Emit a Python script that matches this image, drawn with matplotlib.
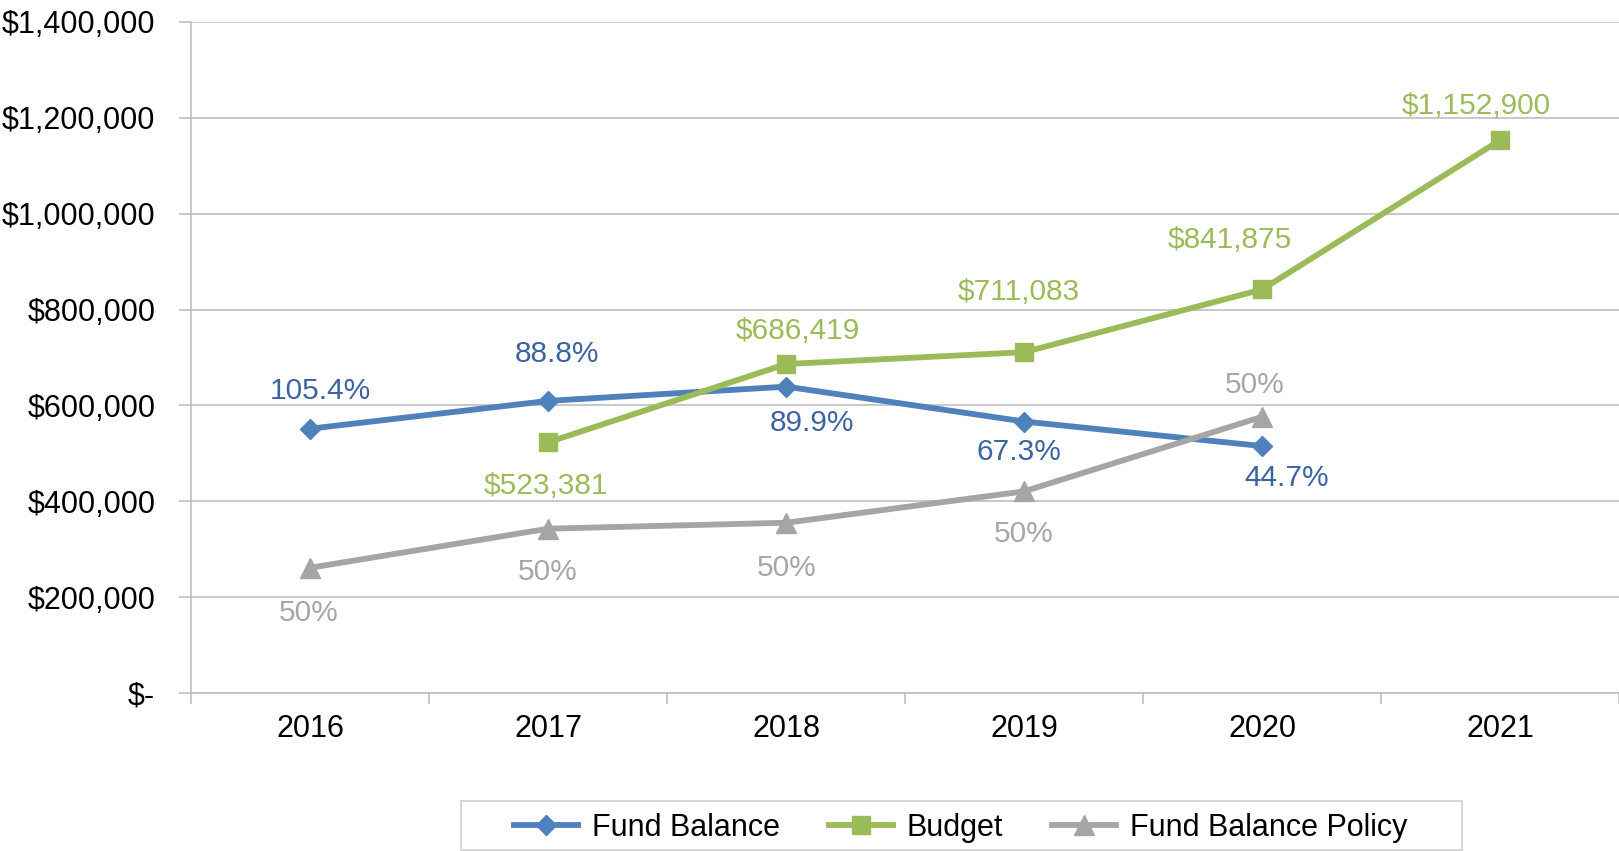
import matplotlib
matplotlib.use("Agg")
import matplotlib.pyplot as plt
from matplotlib.patches import Rectangle
from matplotlib.ticker import FuncFormatter

years = ["2016", "2017", "2018", "2019", "2020", "2021"]

# fund balance at end of year (2016-2020)
fund_balance = [551644, 609540, 639264, 566582, 515346]
fund_balance_labels = ["105.4%", "88.8%", "89.9%", "67.3%", "44.7%"]

# budget (2017-2021)
budget = [523381, 686419, 711083, 841875, 1152900]
budget_labels = ["$523,381", "$686,419", "$711,083", "$841,875", "$1,152,900"]

# policy = 50% of next year's budget (2016-2020)
policy = [261690, 343210, 355541, 420938, 576450]
policy_labels = ["50%", "50%", "50%", "50%", "50%"]

BLUE = "#4F81BD"
BLUE_TXT = "#3B64A0"
GREEN = "#9BBB59"
GRAY = "#A5A5A5"
GRID = "#BFBFBF"

plt.rcParams["font.family"] = ["Liberation Sans", "DejaVu Sans"]

fig = plt.figure(figsize=(16.19, 8.51), dpi=100)
ax = fig.add_axes([0.1182, 0.1853, 0.8818, 0.7892])

x_fb = list(range(0, 5))
x_bud = list(range(1, 6))
x_pol = list(range(0, 5))

ax.plot(x_fb, fund_balance, color=BLUE, lw=4.2, marker="D", ms=10.5,
        label="Fund Balance", zorder=3)
ax.plot(x_bud, budget, color=GREEN, lw=4.2, marker="s", ms=13.5,
        label="Budget", zorder=3)
ax.plot(x_pol, policy, color=GRAY, lw=4.2, marker="^", ms=15,
        label="Fund Balance Policy", zorder=3)

# label offsets in pixels (dx, dy) - picked to match the original
fb_off = [(10, 38), (9, 47), (26, -36), (-5, -30), (25, -32)]
bud_off = [(-2, -44), (12, 33), (-5, 60), (-32, 49), (-24, 34)]
pol_off = [(-2, -45), (-1, -43), (0, -45), (0, -43), (-7, 32)]

def put_labels(xs, ys, texts, offs, color):
    for x, y, t, (dx, dy) in zip(xs, ys, texts, offs):
        ax.annotate(t, (x, y), xytext=(dx, dy), textcoords="offset pixels",
                    ha="center", va="center", fontsize=21.5, color=color,
                    zorder=4)

put_labels(x_fb, fund_balance, fund_balance_labels, fb_off, BLUE_TXT)
put_labels(x_bud, budget, budget_labels, bud_off, GREEN)
put_labels(x_pol, policy, policy_labels, pol_off, "#A6A6A6")

ax.set_xlim(-0.5, 5.5)
ax.set_ylim(0, 1400000)
ax.set_yticks(range(0, 1400001, 200000))

def money(v, pos):
    if v == 0:
        return "$-"
    return "${:,.0f}".format(v)

ax.yaxis.set_major_formatter(FuncFormatter(money))
ax.set_xticks(range(6))
ax.set_xticklabels(years)
ax.set_xticks([i - 0.5 for i in range(7)], minor=True)

ax.grid(axis="y", color=GRID, lw=1.2, zorder=0)
ax.tick_params(axis="y", labelsize=22, length=9, width=1.2, color=GRID, pad=17)
ax.tick_params(axis="x", which="major", length=0, labelsize=22, pad=15)
ax.tick_params(axis="x", which="minor", length=8, width=1.2, color=GRID)

for side in ["top", "right"]:
    ax.spines[side].set_visible(False)
ax.spines["left"].set_color(GRID)
ax.spines["left"].set_linewidth(1.2)
ax.spines["bottom"].set_color(GRID)
ax.spines["bottom"].set_linewidth(1.2)

leg = fig.legend(loc="center", bbox_to_anchor=(0.5933, 0.027), ncol=3,
                 fontsize=22, frameon=False,
                 handlelength=2.1, handletextpad=0.45, columnspacing=1.6,
                 borderpad=0.35, borderaxespad=0)

# legend box is wider than its content in the original, draw it by hand
W, H = 1619.0, 851.0
fig.patches.append(Rectangle((460.6 / W, 1.0 / H), (1461.5 - 460.6) / W, 49.0 / H,
                             transform=fig.transFigure, fill=False,
                             edgecolor="#D0D0D0", lw=1.2))

fig.savefig("out.png", dpi=100)
